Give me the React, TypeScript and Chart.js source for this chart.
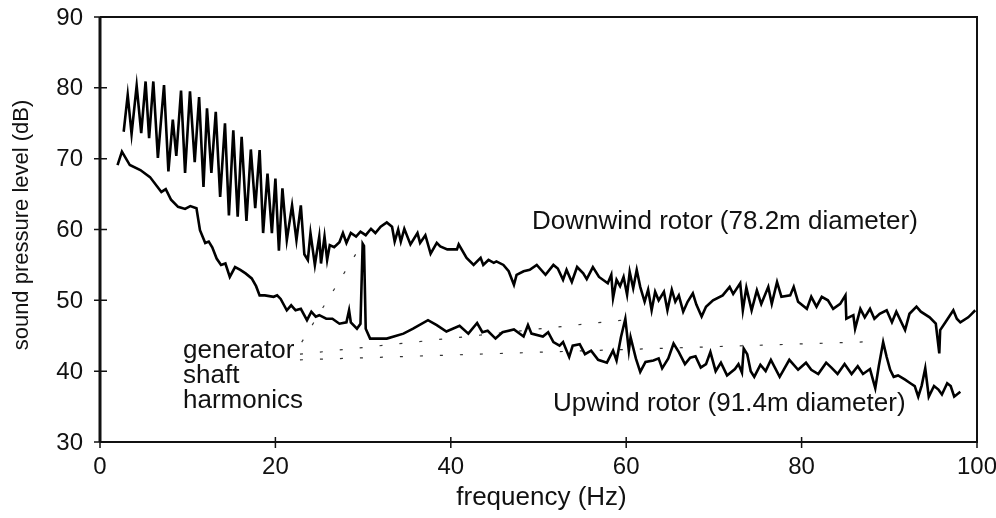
import { useEffect, useRef } from 'react';
import { Chart, registerables } from 'chart.js';

Chart.register(...registerables);

const FONT = '"Liberation Sans", Arial, Helvetica, sans-serif';

// Axis ticks
const xTicks = [0, 20, 40, 60, 80, 100];
const yTicks = [30, 40, 50, 60, 70, 80, 90];

// Downwind rotor (78.2m diameter)
const downwindHz = [
  2.7, 3.16, 3.6, 4.18, 4.7, 5.2, 5.6, 6.08, 6.6, 7.3, 7.8, 8.3, 8.7, 9.24, 9.7, 10.26, 10.8, 11.3, 11.8, 12.2,
  12.7, 13.2, 13.7, 14.25, 14.7, 15.2, 15.7, 16.15, 16.7, 17.2, 17.7, 18.2, 18.6, 19.1, 19.6, 20.0, 20.4, 20.8,
  21.3, 21.9, 22.4, 22.9, 23.3, 23.7, 24.0, 24.5, 25.0, 25.2, 25.6, 25.9, 26.2, 26.7, 27.3, 27.7, 28.1, 28.6,
  29.2, 29.7, 30.3, 30.9, 31.4, 32.0, 32.7, 33.3, 33.6, 34.0, 34.3, 34.7, 35.4, 36.2, 36.5, 37.1, 37.7, 38.4,
  38.8, 39.6, 40.7, 40.9, 41.8, 42.6, 43.4, 43.7, 44.3, 44.9, 45.2, 46.0, 46.6, 47.2, 47.5, 48.3, 49.0, 49.8,
  50.8, 51.7, 52.2, 52.8, 53.2, 53.8, 54.4, 55.1, 55.5, 56.2, 56.9, 57.9, 58.3, 58.5, 58.9, 59.3, 59.7, 60.1,
  60.4, 60.8, 61.2, 61.6, 62.1, 62.5, 62.9, 63.3, 63.7, 64.3, 64.7, 65.2, 65.6, 66.0, 66.5, 67.0, 67.6, 68.0,
  68.6, 69.1, 69.9, 71.0, 71.8, 72.2, 73.0, 73.3, 73.7, 74.3, 74.9, 75.4, 76.2, 76.6, 77.2, 77.7, 78.7, 79.1,
  79.6, 80.6, 81.1, 81.7, 82.3, 83.0, 83.6, 84.4, 85.0, 85.1, 85.9, 86.1, 86.7, 87.2, 87.8, 88.3, 88.9, 89.7,
  90.3, 90.8, 91.8, 92.3, 93.1, 93.6, 94.6, 95.3, 95.7, 95.8, 96.4, 97.3, 97.7, 98.1, 99.0, 99.4, 99.8,
];
const downwindDb = [
  73.8, 79.0, 73.5, 80.3, 73.6, 80.9, 72.9, 80.9, 70.1, 80.4, 68.2, 75.5, 70.4, 79.6, 68.0, 79.5, 69.5, 78.7, 66.0, 77.1,
  68.0, 76.6, 64.6, 75.0, 62.0, 74.0, 61.8, 73.1, 61.2, 71.3, 63.0, 71.2, 59.5, 67.9, 59.5, 67.2, 57.0, 65.8,
  58.5, 63.4, 58.5, 63.4, 56.5, 55.7, 59.5, 55.0, 59.0, 55.2, 59.0, 55.7, 57.8, 57.5, 58.2, 59.5, 58.1, 59.5,
  59.0, 59.7, 59.2, 60.1, 59.5, 60.4, 61.0, 60.4, 58.3, 60.0, 58.3, 60.1, 57.9, 59.5, 58.1, 59.2, 56.6, 58.1,
  57.6, 57.2, 57.2, 57.9, 56.0, 55.0, 56.0, 55.0, 55.7, 55.3, 55.5, 55.0, 54.1, 52.2, 53.6, 54.1, 54.3, 55.0,
  53.6, 55.0, 54.5, 52.9, 54.3, 52.6, 54.7, 53.8, 53.0, 54.7, 53.3, 52.4, 53.6, 50.3, 52.9, 52.0, 53.3, 50.8,
  54.0, 51.7, 54.3, 51.9, 49.8, 51.5, 48.6, 51.2, 50.0, 51.2, 48.6, 51.5, 49.8, 50.7, 48.4, 49.8, 51.0, 49.4,
  47.7, 49.1, 50.0, 50.7, 51.9, 50.9, 52.4, 48.6, 51.8, 48.6, 51.4, 49.5, 51.9, 49.5, 52.6, 50.5, 50.7, 51.9,
  49.8, 48.8, 50.5, 49.1, 50.5, 50.0, 48.8, 49.5, 50.7, 47.4, 47.9, 46.0, 48.8, 47.6, 48.8, 47.4, 48.1, 48.6,
  46.9, 48.4, 45.8, 48.1, 49.1, 48.4, 47.6, 46.7, 42.5, 45.8, 46.9, 48.6, 47.4, 46.9, 47.6, 48.1, 48.6,
];

// Upwind rotor (91.4m diameter)
const upwindHz = [
  2.0, 2.5, 3.4, 4.6, 5.7, 7.0, 7.5, 8.1, 8.9, 9.7, 10.3, 11.0, 11.4, 12.0, 12.4, 12.8, 13.3, 13.8, 14.3, 14.8,
  15.4, 16.0, 16.6, 17.3, 17.8, 18.2, 18.8, 19.8, 20.2, 20.6, 21.3, 21.8, 22.3, 22.9, 23.6, 24.1, 24.6, 25.0,
  25.8, 26.5, 27.3, 28.1, 28.4, 28.6, 29.3, 29.7, 29.95, 30.1, 30.3, 30.8, 32.7, 34.6, 35.7, 37.4, 38.4, 39.5,
  41.0, 42.0, 43.0, 43.6, 44.2, 45.1, 45.9, 47.2, 48.3, 48.8, 49.2, 50.5, 51.1, 51.7, 52.4, 52.8, 53.5, 53.9,
  54.7, 55.3, 56.0, 56.8, 57.8, 58.5, 58.9, 59.4, 59.9, 60.3, 60.5, 61.1, 61.6, 62.2, 63.1, 63.7, 64.1, 64.8,
  65.4, 66.0, 66.7, 67.3, 67.9, 68.5, 69.1, 69.6, 70.2, 70.8, 71.5, 72.4, 72.8, 73.2, 73.4, 73.8, 74.2, 74.6,
  75.3, 75.9, 76.5, 77.5, 78.6, 79.6, 80.5, 81.1, 81.9, 82.8, 83.4, 84.1, 84.9, 85.7, 86.4, 87.0, 87.8, 88.4,
  88.8, 89.3, 89.7, 90.1, 90.5, 91.0, 91.8, 92.4, 92.9, 93.3, 93.7, 94.1, 94.5, 95.1, 95.6, 96.0, 96.6, 97.0,
  97.4, 98.1,
];
const upwindDb = [
  69.1, 71.0, 69.1, 68.4, 67.4, 65.3, 65.7, 64.2, 63.2, 62.9, 63.3, 63.0, 59.9, 58.1, 58.3, 57.5, 55.9, 55.0, 55.2, 53.3,
  54.7, 54.3, 53.8, 53.1, 52.0, 50.7, 50.7, 50.5, 50.7, 50.2, 48.6, 49.3, 48.6, 48.8, 47.2, 48.4, 47.7, 47.9,
  47.4, 47.4, 46.7, 46.9, 48.6, 46.9, 46.0, 46.7, 58.0, 57.7, 46.0, 44.6, 44.6, 45.3, 46.0, 47.2, 46.5, 45.6,
  46.4, 45.3, 46.8, 45.5, 45.7, 44.6, 45.5, 45.9, 44.9, 46.5, 45.3, 44.9, 45.5, 44.1, 43.6, 44.1, 42.0, 43.6,
  43.8, 42.4, 42.9, 41.6, 41.2, 42.9, 41.5, 44.8, 47.4, 42.9, 44.8, 41.8, 39.9, 41.3, 41.5, 41.8, 40.4, 41.8,
  43.9, 42.7, 41.0, 41.9, 42.1, 40.5, 41.0, 42.7, 40.0, 41.2, 39.4, 40.3, 41.0, 39.8, 43.2, 42.4, 40.0, 39.2,
  40.9, 40.0, 41.6, 39.2, 41.6, 40.2, 41.2, 40.2, 39.6, 41.2, 40.5, 39.6, 41.0, 39.6, 40.7, 39.6, 40.3, 37.6,
  40.7, 44.1, 42.0, 40.2, 39.2, 39.4, 38.8, 38.3, 37.9, 36.4, 38.0, 40.4, 36.4, 37.9, 37.4, 36.7, 38.3, 37.9,
  36.4, 37.1,
];

// "generator shaft harmonics" leader lines (start at label, end at 30/60/90 Hz peaks)
const leaderStartHz = [23.0, 22.8, 22.8];
const leaderStartDb = [44.1, 42.4, 41.6];
const leaderEndHz = [29.6, 59.5, 88.9];
const leaderEndDb = [57.4, 47.2, 44.2];

const annotationLines = ['generator', 'shaft', 'harmonics'];

const pairs = (xs: number[], ys: number[]) => xs.map((x, i) => ({ x, y: ys[i] }));

const textPlugin = {
  id: 'textPlugin',
  afterDraw(chart: any) {
    const ctx = chart.ctx as CanvasRenderingContext2D;
    const xs = chart.scales.x;
    const ys = chart.scales.y;
    const { left, right, top, bottom } = chart.chartArea;
    ctx.save();
    ctx.strokeStyle = '#111';
    ctx.fillStyle = '#111';
    // frame
    ctx.lineWidth = 2;
    ctx.beginPath();
    ctx.moveTo(left, top);
    ctx.lineTo(right, top);
    ctx.lineTo(right, bottom);
    ctx.lineTo(left, bottom);
    ctx.stroke();
    ctx.lineWidth = 3;
    ctx.beginPath();
    ctx.moveTo(left, top);
    ctx.lineTo(left, bottom);
    ctx.stroke();
    // tick marks
    ctx.lineWidth = 1.5;
    ctx.beginPath();
    for (const v of yTicks) {
      const py = ys.getPixelForValue(v);
      ctx.moveTo(left - 6, py);
      ctx.lineTo(left + 7, py);
    }
    for (const v of xTicks) {
      const px = xs.getPixelForValue(v);
      ctx.moveTo(px, bottom - 5);
      ctx.lineTo(px, bottom + 6);
    }
    ctx.stroke();
    // tick labels
    ctx.font = `24px ${FONT}`;
    ctx.textAlign = 'right';
    ctx.textBaseline = 'middle';
    for (const v of yTicks) {
      ctx.fillText(String(v), left - 17, ys.getPixelForValue(v) + 1);
    }
    ctx.textAlign = 'center';
    for (const v of xTicks) {
      ctx.fillText(String(v), xs.getPixelForValue(v), bottom + 25);
    }
    // axis titles
    ctx.font = `26px ${FONT}`;
    ctx.fillText('frequency (Hz)', (left + right) / 2 + 3, bottom + 56);
    ctx.save();
    ctx.translate(22, 225);
    ctx.rotate(-Math.PI / 2);
    ctx.font = `22px ${FONT}`;
    ctx.fillText('sound pressure level (dB)', 0, 0);
    ctx.restore();
    // annotations
    ctx.font = `26px ${FONT}`;
    ctx.textAlign = 'left';
    ctx.textBaseline = 'alphabetic';
    ctx.fillText('Downwind rotor (78.2m diameter)', 532, 229);
    ctx.fillText('Upwind rotor (91.4m diameter)', 553, 411);
    annotationLines.forEach((t, i) => ctx.fillText(t, 183, 358 + i * 25));
    ctx.restore();
  },
};

export default function App() {
  const ref = useRef<HTMLCanvasElement>(null);
  useEffect(() => {
    const canvas = ref.current;
    if (!canvas) return;
    const leaders = leaderStartHz.map((x0, i) => ({
      data: [
        { x: x0, y: leaderStartDb[i] },
        { x: leaderEndHz[i], y: leaderEndDb[i] },
      ],
      borderColor: '#333',
      borderWidth: 1.2,
      borderDash: [3, 17],
      pointRadius: 0,
      fill: false,
    }));
    const chart = new Chart(canvas, {
      type: 'line',
      data: {
        datasets: [
          {
            label: 'Downwind rotor (78.2m diameter)',
            data: pairs(downwindHz, downwindDb),
            borderColor: '#000',
            borderWidth: 2.6,
            pointRadius: 0,
            tension: 0,
            fill: false,
          },
          {
            label: 'Upwind rotor (91.4m diameter)',
            data: pairs(upwindHz, upwindDb),
            borderColor: '#000',
            borderWidth: 2.6,
            pointRadius: 0,
            tension: 0,
            fill: false,
          },
          ...leaders,
        ],
      },
      options: {
        responsive: false,
        animation: false,
        events: [],
        layout: { padding: { left: 100, right: 19, top: 17, bottom: 76 } },
        plugins: { legend: { display: false }, tooltip: { enabled: false } },
        scales: {
          x: { type: 'linear', min: 0, max: 100, display: false },
          y: { type: 'linear', min: 30, max: 90, display: false },
        },
      },
      plugins: [textPlugin],
    } as any);
    return () => chart.destroy();
  }, []);
  return (
    <div style={{ position: 'fixed', left: 0, top: 0, width: 996, height: 518, background: '#fff' }}>
      <canvas ref={ref} width={996} height={518} style={{ display: 'block' }} />
    </div>
  );
}
